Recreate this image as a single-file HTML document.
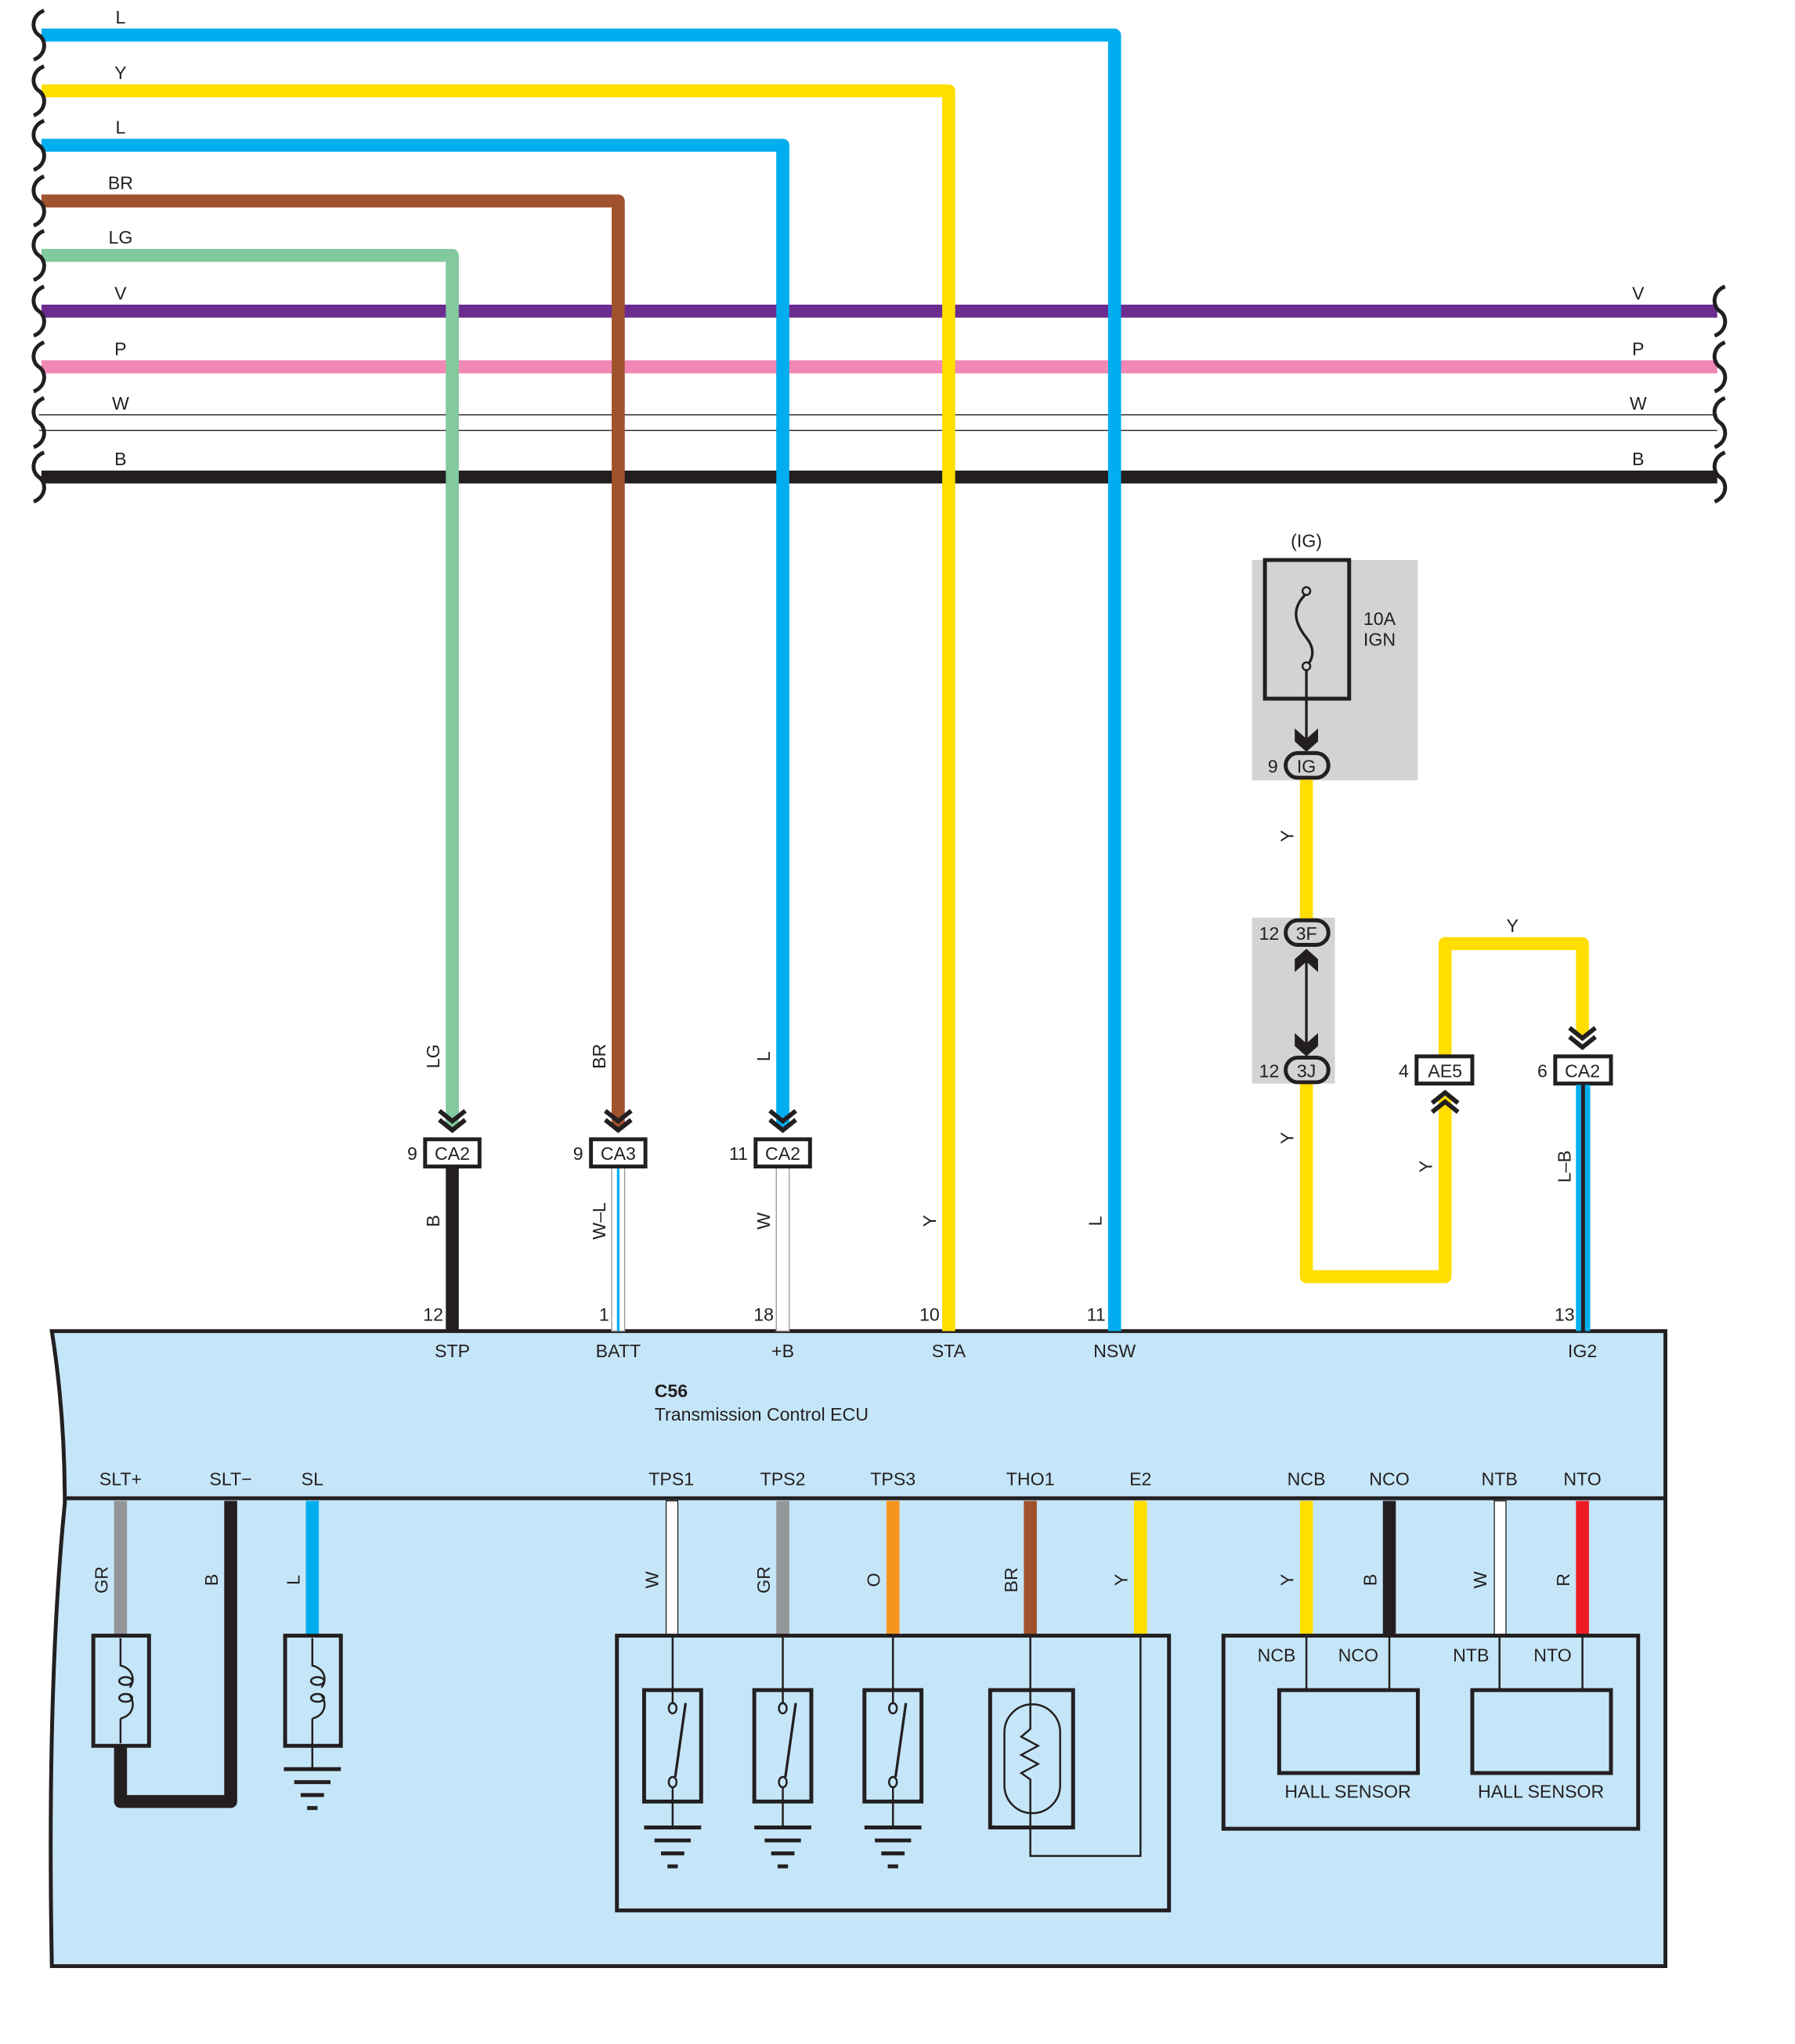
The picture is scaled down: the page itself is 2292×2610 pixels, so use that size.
<!DOCTYPE html>
<html><head><meta charset="utf-8"><style>
html,body{margin:0;padding:0;background:#fff;}
svg{display:block;}
text{font-family:"Liberation Sans",sans-serif;font-size:14px;fill:#231f20;}
</style></head><body>
<svg width="2292" height="2610" viewBox="0 0 1385 1577" xmlns="http://www.w3.org/2000/svg">
<defs>
<g id="chev"><polyline points="-10,0 0,8 10,0" fill="none" stroke="#231f20" stroke-width="3.5"/><polyline points="-10,7 0,15 10,7" fill="none" stroke="#231f20" stroke-width="3.5"/></g>
<g id="gnd"><line x1="-22" y1="0" x2="22" y2="0" stroke="#231f20" stroke-width="3"/><line x1="-14" y1="10" x2="14" y2="10" stroke="#231f20" stroke-width="3"/><line x1="-9" y1="20" x2="9" y2="20" stroke="#231f20" stroke-width="3"/><line x1="-4" y1="30" x2="4" y2="30" stroke="#231f20" stroke-width="3"/></g>
<path id="brace" d="M4,-19 C-6,-15 -6,-4 0,0 C6,4 6,15 -4,19" fill="none" stroke="#231f20" stroke-width="3"/>
</defs>

<!-- ECU body -->
<path d="M40,1027 L1285,1027 L1285,1517 L40,1517 Q36,1300 50,1160 Q50,1090 40,1027 Z" fill="#c5e6f8" stroke="#231f20" stroke-width="3"/>
<line x1="50" y1="1156" x2="1285" y2="1156" stroke="#231f20" stroke-width="3"/>

<!-- horizontal bus wires -->
<g fill="none" stroke-linejoin="round">
<polyline points="32,27 860,27 860,1027" stroke="#00aeef" stroke-width="10"/>
<polyline points="32,70 732,70 732,1027" stroke="#ffde00" stroke-width="10"/>
<polyline points="32,112 604,112 604,870" stroke="#00aeef" stroke-width="10"/>
<polyline points="32,155 477,155 477,870" stroke="#a0522d" stroke-width="10"/>
<polyline points="32,197 349,197 349,870" stroke="#82c99d" stroke-width="10"/>
</g>
<line x1="32" y1="240" x2="1325" y2="240" stroke="#6b2c8f" stroke-width="10"/>
<line x1="32" y1="283" x2="1325" y2="283" stroke="#f087b4" stroke-width="10"/>
<line x1="30" y1="320" x2="1325" y2="320" stroke="#231f20" stroke-width="0.8"/>
<line x1="30" y1="332" x2="1325" y2="332" stroke="#231f20" stroke-width="0.8"/>
<line x1="32" y1="368" x2="1325" y2="368" stroke="#231f20" stroke-width="10"/>
<line x1="349" y1="197" x2="349" y2="870" stroke="#82c99d" stroke-width="10"/>
<line x1="477" y1="155" x2="477" y2="870" stroke="#a0522d" stroke-width="10"/>
<line x1="604" y1="112" x2="604" y2="870" stroke="#00aeef" stroke-width="10"/>
<line x1="732" y1="70" x2="732" y2="1027" stroke="#ffde00" stroke-width="10"/>
<line x1="860" y1="27" x2="860" y2="1027" stroke="#00aeef" stroke-width="10"/>

<!-- brace breaks -->
<g>
<use href="#brace" x="30" y="27"/><use href="#brace" x="30" y="70"/><use href="#brace" x="30" y="112"/><use href="#brace" x="30" y="155"/><use href="#brace" x="30" y="197"/><use href="#brace" x="30" y="240"/><use href="#brace" x="30" y="283"/><use href="#brace" x="30" y="326"/><use href="#brace" x="30" y="368"/>
<use href="#brace" x="1327" y="240"/><use href="#brace" x="1327" y="283"/><use href="#brace" x="1327" y="326"/><use href="#brace" x="1327" y="368"/>
</g>
<g text-anchor="middle">
<text x="93" y="18">L</text><text x="93" y="61">Y</text><text x="93" y="103">L</text><text x="93" y="146">BR</text><text x="93" y="188">LG</text><text x="93" y="231">V</text><text x="93" y="274">P</text><text x="93" y="316">W</text><text x="93" y="359">B</text>
<text x="1264" y="231">V</text><text x="1264" y="274">P</text><text x="1264" y="316">W</text><text x="1264" y="359">B</text>
</g>

<!-- connectors row -->
<use href="#chev" x="349" y="857"/><use href="#chev" x="477" y="857"/><use href="#chev" x="604" y="857"/>
<line x1="349" y1="900" x2="349" y2="1027" stroke="#231f20" stroke-width="10"/>
<rect x="472" y="900" width="10" height="127" fill="#fff" stroke="#999" stroke-width="0.8"/>
<line x1="477" y1="900" x2="477" y2="1027" stroke="#00aeef" stroke-width="2"/>
<rect x="599" y="900" width="10" height="127" fill="#fff" stroke="#999" stroke-width="0.8"/>
<g fill="#fff" stroke="#231f20" stroke-width="3">
<rect x="328" y="879" width="42" height="21"/><rect x="456" y="879" width="42" height="21"/><rect x="583" y="879" width="42" height="21"/>
</g>
<g text-anchor="middle">
<text x="349" y="895">CA2</text><text x="477" y="895">CA3</text><text x="604" y="895">CA2</text>
</g>
<g text-anchor="end">
<text x="322" y="895">9</text><text x="450" y="895">9</text><text x="577" y="895">11</text>
<text x="342" y="1019">12</text><text x="470" y="1019">1</text><text x="597" y="1019">18</text><text x="725" y="1019">10</text><text x="853" y="1019">11</text>
<text x="1215" y="1019">13</text>
</g>
<g text-anchor="middle">
<text transform="translate(339,815) rotate(-90)">LG</text>
<text transform="translate(467,815) rotate(-90)">BR</text>
<text transform="translate(594,815) rotate(-90)">L</text>
<text transform="translate(339,942) rotate(-90)">B</text>
<text transform="translate(467,942) rotate(-90)">W–L</text>
<text transform="translate(594,942) rotate(-90)">W</text>
<text transform="translate(722,942) rotate(-90)">Y</text>
<text transform="translate(850,942) rotate(-90)">L</text>
<text transform="translate(998,645) rotate(-90)">Y</text>
<text transform="translate(998,878) rotate(-90)">Y</text>
<text transform="translate(1105,900) rotate(-90)">Y</text>
<text transform="translate(1212,900) rotate(-90)">L–B</text>
</g>

<!-- IG section -->
<rect x="966" y="432" width="128" height="170" fill="#d1d3d4"/>
<rect x="966" y="708" width="64" height="128" fill="#d1d3d4"/>
<rect x="976" y="432" width="65" height="107" fill="none" stroke="#231f20" stroke-width="3"/>
<path d="M1008,458 C995,470 1000,482 1008,492 C1016,502 1012,510 1008,514" fill="none" stroke="#231f20" stroke-width="2"/>
<circle cx="1008" cy="456" r="3" fill="#d1d3d4" stroke="#231f20" stroke-width="1.5"/>
<circle cx="1008" cy="514" r="3" fill="#d1d3d4" stroke="#231f20" stroke-width="1.5"/>
<line x1="1008" y1="517" x2="1008" y2="572" stroke="#231f20" stroke-width="2"/>
<path d="M999,562 L1008,570 L1017,562 L1017,572 L1008,580 L999,572 Z" fill="#231f20"/>
<text x="1008" y="422" text-anchor="middle">(IG)</text>
<text x="1052" y="482">10A</text><text x="1052" y="498">IGN</text>
<g fill="none" stroke-linejoin="round">
<line x1="1008" y1="600" x2="1008" y2="712" stroke="#ffde00" stroke-width="10"/>
<polyline points="1008,832 1008,985 1115,985 1115,846" stroke="#ffde00" stroke-width="10"/>
<polyline points="1115,815 1115,728 1221,728 1221,800" stroke="#ffde00" stroke-width="10"/>
</g>
<line x1="1008" y1="735" x2="1008" y2="805" stroke="#231f20" stroke-width="2"/>
<path d="M999,740 L1008,732 L1017,740 L1017,750 L1008,742 L999,750 Z" fill="#231f20"/>
<path d="M999,797 L1008,805 L1017,797 L1017,807 L1008,815 L999,807 Z" fill="#231f20"/>
<g fill="#d1d3d4" stroke="#231f20" stroke-width="3">
<rect x="992" y="581" width="33" height="19" rx="9.5"/>
<rect x="992" y="710" width="33" height="19" rx="9.5"/>
<rect x="992" y="816" width="33" height="19" rx="9.5"/>
</g>
<g text-anchor="middle"><text x="1008" y="596">IG</text><text x="1008" y="725">3F</text><text x="1008" y="831">3J</text></g>
<text x="986" y="596" text-anchor="end">9</text>
<text x="987" y="725" text-anchor="end">12</text>
<text x="987" y="831" text-anchor="end">12</text>
<text x="1167" y="719" text-anchor="middle">Y</text>
<use href="#chev" x="1221" y="793"/>
<g transform="translate(1115,858) scale(1,-1)"><use href="#chev" x="0" y="0"/></g>
<rect x="1093" y="815" width="43" height="21" fill="#fff" stroke="#231f20" stroke-width="3"/>
<rect x="1200" y="815" width="43" height="21" fill="#fff" stroke="#231f20" stroke-width="3"/>
<text x="1115" y="831" text-anchor="middle">AE5</text><text x="1221" y="831" text-anchor="middle">CA2</text>
<text x="1087" y="831" text-anchor="end">4</text><text x="1194" y="831" text-anchor="end">6</text>
<line x1="1218" y1="837" x2="1218" y2="1027" stroke="#00aeef" stroke-width="4"/>
<line x1="1221.5" y1="837" x2="1221.5" y2="1027" stroke="#231f20" stroke-width="3"/>
<line x1="1225" y1="837" x2="1225" y2="1027" stroke="#00aeef" stroke-width="4"/>

<!-- ECU labels -->
<g text-anchor="middle">
<text x="349" y="1047">STP</text><text x="477" y="1047">BATT</text><text x="604" y="1047">+B</text><text x="732" y="1047">STA</text><text x="860" y="1047">NSW</text><text x="1221" y="1047">IG2</text>
</g>
<text x="505" y="1078" font-weight="bold">C56</text>
<text x="505" y="1096">Transmission Control ECU</text>
<g text-anchor="middle">
<text x="93" y="1146">SLT+</text><text x="178" y="1146">SLT−</text><text x="241" y="1146">SL</text>
<text x="518" y="1146">TPS1</text><text x="604" y="1146">TPS2</text><text x="689" y="1146">TPS3</text><text x="795" y="1146">THO1</text><text x="880" y="1146">E2</text>
<text x="1008" y="1146">NCB</text><text x="1072" y="1146">NCO</text><text x="1157" y="1146">NTB</text><text x="1221" y="1146">NTO</text>
</g>

<!-- lower wires -->
<line x1="93" y1="1158" x2="93" y2="1262" stroke="#939598" stroke-width="10"/>
<polyline points="93,1347 93,1390 178,1390 178,1158" fill="none" stroke="#231f20" stroke-width="10" stroke-linejoin="round"/>
<line x1="241" y1="1158" x2="241" y2="1262" stroke="#00aeef" stroke-width="10"/>
<rect x="514" y="1158" width="9" height="104" fill="#fff" stroke="#231f20" stroke-width="0.8"/>
<line x1="604" y1="1158" x2="604" y2="1262" stroke="#939598" stroke-width="10"/>
<line x1="689" y1="1158" x2="689" y2="1262" stroke="#f7941d" stroke-width="10"/>
<line x1="795" y1="1158" x2="795" y2="1262" stroke="#a0522d" stroke-width="10"/>
<line x1="880" y1="1158" x2="880" y2="1262" stroke="#ffde00" stroke-width="10"/>
<line x1="1008" y1="1158" x2="1008" y2="1262" stroke="#ffde00" stroke-width="10"/>
<line x1="1072" y1="1158" x2="1072" y2="1262" stroke="#231f20" stroke-width="10"/>
<rect x="1153" y="1158" width="9" height="104" fill="#fff" stroke="#231f20" stroke-width="0.8"/>
<line x1="1221" y1="1158" x2="1221" y2="1262" stroke="#ed1c24" stroke-width="10"/>
<g text-anchor="middle">
<text transform="translate(83,1219) rotate(-90)">GR</text>
<text transform="translate(168,1219) rotate(-90)">B</text>
<text transform="translate(231,1219) rotate(-90)">L</text>
<text transform="translate(508,1219) rotate(-90)">W</text>
<text transform="translate(594,1219) rotate(-90)">GR</text>
<text transform="translate(679,1219) rotate(-90)">O</text>
<text transform="translate(785,1219) rotate(-90)">BR</text>
<text transform="translate(870,1219) rotate(-90)">Y</text>
<text transform="translate(998,1219) rotate(-90)">Y</text>
<text transform="translate(1062,1219) rotate(-90)">B</text>
<text transform="translate(1147,1219) rotate(-90)">W</text>
<text transform="translate(1211,1219) rotate(-90)">R</text>
</g>

<!-- coils -->
<g fill="none" stroke="#231f20">
<rect x="72" y="1262" width="43" height="85" stroke-width="3"/>
<rect x="220" y="1262" width="43" height="85" stroke-width="3"/>
<path d="M93,1264 L93,1285 C104,1288 104,1298 100,1302 M93,1326 L93,1345 M93,1326 C104,1323 104,1313 100,1308" stroke-width="1.5"/>
<path d="M241,1264 L241,1285 C252,1288 252,1298 248,1302 M241,1326 L241,1347 M241,1326 C252,1323 252,1313 248,1308" stroke-width="1.5"/>
<ellipse cx="97" cy="1297" rx="5" ry="3" stroke-width="1.5"/><ellipse cx="97" cy="1310" rx="5" ry="3" stroke-width="1.5"/>
<ellipse cx="245" cy="1297" rx="5" ry="3" stroke-width="1.5"/><ellipse cx="245" cy="1310" rx="5" ry="3" stroke-width="1.5"/>
<line x1="241" y1="1347" x2="241" y2="1365" stroke-width="1.5"/>
</g>
<use href="#gnd" x="241" y="1365"/>

<!-- sensor box -->
<rect x="476" y="1262" width="426" height="212" fill="none" stroke="#231f20" stroke-width="3"/>
<g fill="none" stroke="#231f20">
<g id="sw">
<line x1="519" y1="1262" x2="519" y2="1315" stroke-width="1.5"/>
<rect x="497" y="1304" width="44" height="86" stroke-width="3"/>
<ellipse cx="519" cy="1318" rx="3" ry="4" stroke-width="1.5"/>
<ellipse cx="519" cy="1375" rx="3" ry="4" stroke-width="1.5"/>
<line x1="521" y1="1371" x2="529" y2="1314" stroke-width="2"/>
<line x1="519" y1="1379" x2="519" y2="1410" stroke-width="1.5"/>
</g>
<use href="#sw" x="85"/><use href="#sw" x="170"/>
<rect x="764" y="1304" width="64" height="106" stroke-width="3"/>
<rect x="775" y="1315" width="43" height="84" rx="21.5" stroke-width="1.5"/>
<polyline points="795,1262 795,1334 788,1340 801,1347 788,1354 801,1361 788,1368 795,1373 795,1432 880,1432 880,1262" stroke-width="1.5"/>
</g>
<use href="#gnd" x="519" y="1410"/><use href="#gnd" x="604" y="1410"/><use href="#gnd" x="689" y="1410"/>

<!-- hall box -->
<rect x="944" y="1262" width="320" height="149" fill="none" stroke="#231f20" stroke-width="3"/>
<g fill="none" stroke="#231f20">
<rect x="987" y="1304" width="107" height="64" stroke-width="3"/>
<rect x="1136" y="1304" width="107" height="64" stroke-width="3"/>
<line x1="1008" y1="1262" x2="1008" y2="1304" stroke-width="1.5"/>
<line x1="1072" y1="1262" x2="1072" y2="1304" stroke-width="1.5"/>
<line x1="1157" y1="1262" x2="1157" y2="1304" stroke-width="1.5"/>
<line x1="1221" y1="1262" x2="1221" y2="1304" stroke-width="1.5"/>
</g>
<g text-anchor="middle">
<text x="985" y="1282">NCB</text><text x="1048" y="1282">NCO</text><text x="1135" y="1282">NTB</text><text x="1198" y="1282">NTO</text>
<text x="1040" y="1387">HALL SENSOR</text><text x="1189" y="1387">HALL SENSOR</text>
</g>
</svg>
</body></html>
